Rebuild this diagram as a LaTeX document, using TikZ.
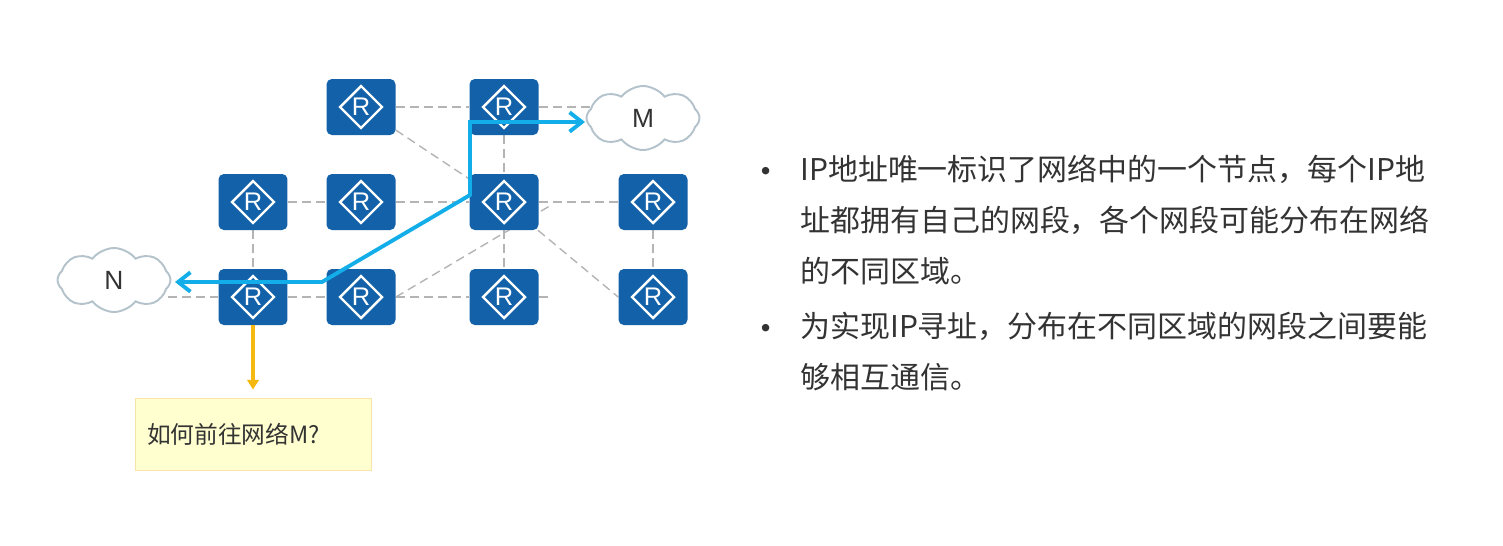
\documentclass[tikz,border=0pt]{standalone}
\usepackage{fontspec}
\setmainfont{Noto Sans CJK SC}
\newfontfamily\labelfont{Liberation Sans}
\usetikzlibrary{shapes.symbols, arrows.meta, backgrounds}

\definecolor{routerblue}{HTML}{1261A9}
\definecolor{linkgray}{HTML}{B4B4B4}
\definecolor{pathblue}{HTML}{13AEE9}
\definecolor{asktip}{HTML}{F5B811}
\definecolor{cloudedge}{HTML}{B3C2CB}
\definecolor{notefill}{HTML}{FFFFCF}
\definecolor{noteedge}{HTML}{F8E3A8}
\definecolor{bodytext}{HTML}{333333}

\tikzset{
	router/.style={fill=routerblue, rounded corners=3pt, minimum width=1.38cm, minimum height=1.12cm, inner sep=0pt, text=white, font=\labelfont\fontsize{14.5}{14.5}\selectfont,
		path picture={\draw[white, line width=1.4pt, sharp corners] ([xshift=-0.42cm]path picture bounding box.center) -- ([yshift=0.42cm]path picture bounding box.center) -- ([xshift=0.42cm]path picture bounding box.center) -- ([yshift=-0.42cm]path picture bounding box.center) -- cycle;}},
	netcloud/.style={cloud, cloud puffs=8, cloud puff arc=105, aspect=1.75, draw=cloudedge, fill=white, line width=1.1pt, minimum width=2.26cm, minimum height=1.28cm, inner sep=0pt, text=black!80, font=\labelfont\fontsize{15}{15}\selectfont},
	link/.style={linkgray, line width=0.8pt, dash pattern=on 5pt off 3pt},
	route/.style={pathblue, line width=2.2pt, {Straight Barb[length=7pt, width=11pt]}-{Straight Barb[length=7pt, width=11pt]}},
	bodytxt/.style={align=left, anchor=north west, inner sep=0pt, text=bodytext, font=\fontsize{17.05}{29}\selectfont},
	bulletmark/.style={text=bodytext, inner sep=0pt, font=\fontsize{20}{20}\selectfont}
}

\begin{document}
\begin{tikzpicture}[x=0.02cm, y=-0.02cm]

	\useasboundingbox (0, 0) rectangle (1503, 545);

	\node[router] (R11) at (361, 107) {R};
	\node[router] (R12) at (504, 107) {R};
	\node[router] (R21) at (253, 202) {R};
	\node[router] (R22) at (361, 202) {R};
	\node[router] (R23) at (504, 202) {R};
	\node[router] (R24) at (653, 202) {R};
	\node[router] (R31) at (253, 297) {R};
	\node[router] (R32) at (361, 297) {R};
	\node[router] (R33) at (504, 297) {R};
	\node[router] (R34) at (653, 297) {R};

	\node[netcloud] (M) at (643, 118) {M};
	\node[netcloud] (N) at (114, 280) {N};

	\coordinate (DiagEnd) at (553, 204);
	\coordinate (RowEnd) at (552, 297);
	\coordinate (NRow) at (168, 297);
	\coordinate (MRow) at (592, 107);

	\begin{scope}[on background layer]
		\draw[link] (R11) -- (R12);
		\draw[link] (R12) -- (MRow);
		\draw[link] (R11) -- (R23);
		\draw[link] (R12) -- (R23);
		\draw[link] (R21) -- (R22);
		\draw[link] (R22) -- (R23);
		\draw[link] (R23) -- (R24);
		\draw[link] (R21) -- (R31);
		\draw[link] (NRow) -- (R31);
		\draw[link] (R31) -- (R32);
		\draw[link] (R32) -- (R33);
		\draw[link] (R33) -- (RowEnd);
		\draw[link] (R32.east) -- (DiagEnd);
		\draw[link] (R23) -- (R33);
		\draw[link] (R23) -- (R34.west);
		\draw[link] (R24) -- (R34);
	\end{scope}

	\coordinate (TurnA) at (322, 282);
	\coordinate (TurnB) at (470, 195);
	\coordinate (TurnC) at (470, 122);
	\coordinate (NTip) at (175, 282);
	\coordinate (MTip) at (585, 122);

	\draw[route] (NTip) -- (TurnA) -- (TurnB) -- (TurnC) -- (MTip);

	\node[fill=notefill, draw=noteedge, line width=0.5pt, minimum width=4.72cm, minimum height=1.44cm, inner xsep=0.24cm, text width=4.24cm, text=bodytext, font=\fontsize{13.5}{16}\selectfont] (Ask) at (253, 434) {如何前往网络M?};
	\draw[asktip, line width=2pt, -{Triangle[length=5.5pt, width=6.5pt]}, shorten >=0.16cm] (R31.south) -- (Ask.north);

	\node[bulletmark] (BulletA) at (766, 176) {•};
	\node[bodytxt] (TextA) at (800, 155) {IP地址唯一标识了网络中的一个节点，每个IP地\\址都拥有自己的网段，各个网段可能分布在网络\\的不同区域。};
	\node[bulletmark] (BulletB) at (766, 333) {•};
	\node[bodytxt] (TextB) at (800, 312) {为实现IP寻址，分布在不同区域的网段之间要能\\够相互通信。};

\end{tikzpicture}
\end{document}
